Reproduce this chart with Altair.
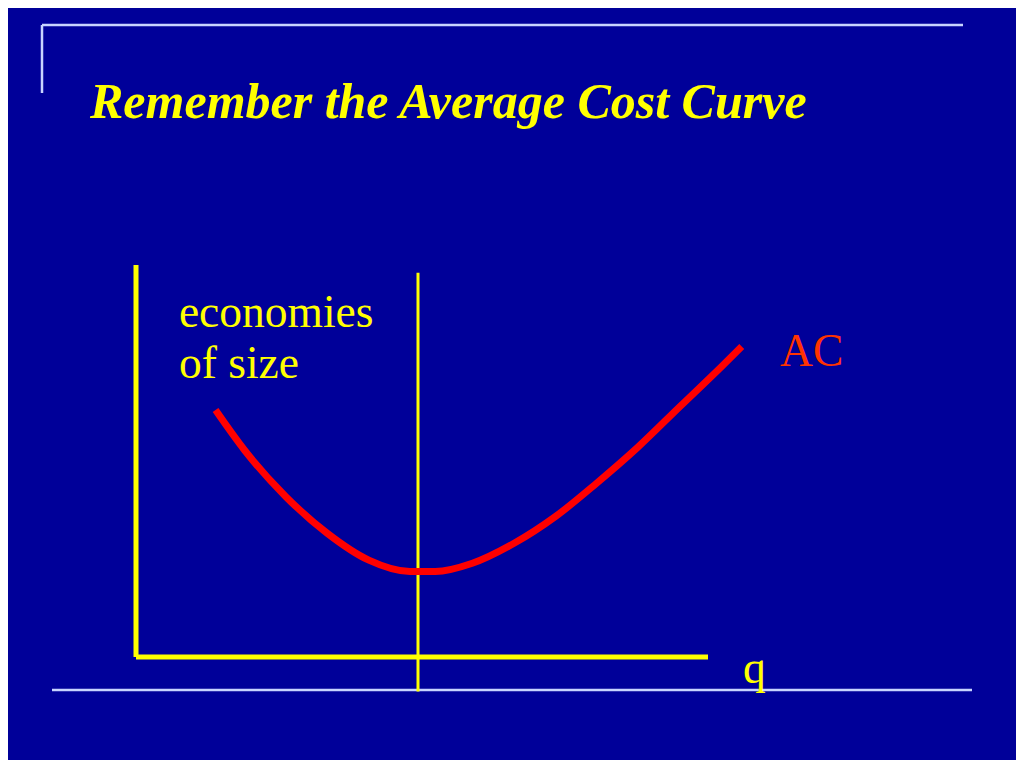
import altair as alt
import pandas as pd

# Average cost curve (q = quantity, c = average cost)
curve_q = [13.9, 18.95, 26.2, 33.4, 40.7, 47.9, 52.3, 58.8, 66.1, 73.3, 80.5, 87.8, 95.1, 102.3, 105.9]
curve_c = [63.0, 52.8, 40.9, 31.6, 24.7, 21.8, 21.8, 23.9, 29.0, 35.8, 44.3, 53.6, 63.9, 74.0, 79.2]

# axis lines (q from, q to, c from, c to)
axes_q1 = [0, 0, 49.3]
axes_q2 = [0, 100, 49.3]
axes_c1 = [0, 0, -8.8]
axes_c2 = [100, 0, 98]
axes_w = [5, 5, 3]

labels = ["economies", "of size", "AC", "q"]
label_q = [7.5, 7.5, 112.6, 106.1]
label_c = [84.2, 71.2, 74.2, -6.6]
label_col = ["#ffff00", "#ffff00", "#ff3300", "#ffff00"]

title_text = "Remember the Average Cost Curve"

BG = "#000099"
xs = alt.Scale(domain=[-22.378, 153.846], nice=False, zero=False)
ys = alt.Scale(domain=[-26.276, 165.561], nice=False, zero=False)

curve_df = pd.DataFrame({"q": curve_q, "c": curve_c})
axes_df = pd.DataFrame({"q1": axes_q1, "q2": axes_q2, "c1": axes_c1, "c2": axes_c2, "w": axes_w})
lab_df = pd.DataFrame({"t": labels, "q": label_q, "c": label_c, "col": label_col})
one = pd.DataFrame({"t": [title_text]})

FRAME = "#c8d4ff"
frame_top = alt.Chart(one).mark_rule(color=FRAME, strokeWidth=2.5).encode(
    x=alt.value(34), x2=alt.value(955), y=alt.value(17))
frame_left = alt.Chart(one).mark_rule(color=FRAME, strokeWidth=2.5).encode(
    x=alt.value(34), y=alt.value(17), y2=alt.value(85))
frame_bottom = alt.Chart(one).mark_rule(color=FRAME, strokeWidth=2.5).encode(
    x=alt.value(44), x2=alt.value(964), y=alt.value(682))

axes = alt.Chart(axes_df).mark_rule(color="#ffff00", strokeCap="butt").encode(
    x=alt.X("q1:Q", scale=xs, axis=None),
    x2="q2:Q",
    y=alt.Y("c1:Q", scale=ys, axis=None),
    y2="c2:Q",
    strokeWidth=alt.StrokeWidth("w:Q", scale=None, legend=None),
)

curve = alt.Chart(curve_df).mark_line(color="#ff0000", strokeWidth=7, interpolate="monotone").encode(
    x=alt.X("q:Q", scale=xs, axis=None),
    y=alt.Y("c:Q", scale=ys, axis=None),
)

texts = alt.Chart(lab_df).mark_text(
    font="Liberation Serif", fontSize=45.5, align="left", baseline="alphabetic"
).encode(
    x=alt.X("q:Q", scale=xs, axis=None),
    y=alt.Y("c:Q", scale=ys, axis=None),
    text="t:N",
    color=alt.Color("col:N", scale=None, legend=None),
)

title = alt.Chart(one).mark_text(
    font="Liberation Serif", fontSize=50, fontWeight="bold", fontStyle="italic",
    color="#ffff00", align="left", baseline="alphabetic"
).encode(x=alt.value(82), y=alt.value(110), text="t:N")

chart = alt.layer(frame_top, frame_left, frame_bottom, axes, curve, texts, title).properties(
    width=1008, height=752,
    autosize=alt.AutoSizeParams(type="fit", contains="padding"),
    padding=0,
    background=BG,
).configure_view(stroke=None)

chart.save("out.html", embed_options={"renderer": "svg", "actions": False})
